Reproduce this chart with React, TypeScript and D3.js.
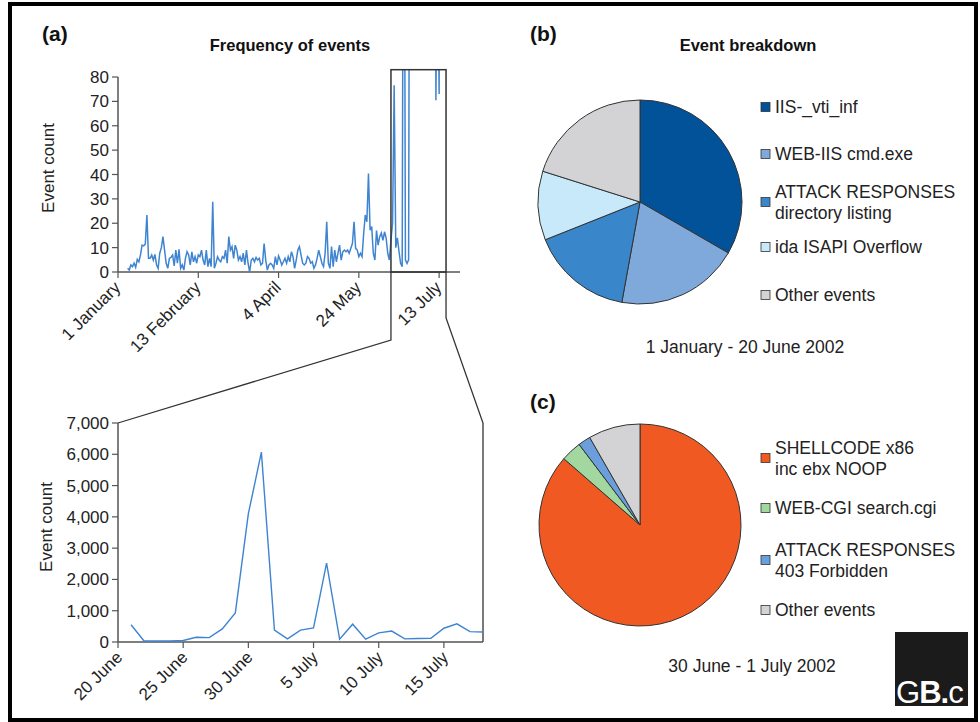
import React from "react";
import * as d3 from "d3";

// top chart: daily event counts, index 0 = day 6 (1 January = day 0)
const firstDay = 6;
const dailyCounts = [
  1.5, 0.8, 2.9, 2.2, 3.6, 1.9, 5.2, 4.2, 7, 11, 10.7, 11.5, 23.4, 5.6, 5.6, 7, 4.9, 7.2, 3, 1.5,
  7.7, 10, 14.5, 9, 3.6, 1.5, 5.6, 6, 7, 2.5, 9, 3.6, 9.3, 1.5, 2.9, 0.8, 5.6, 8.3, 7, 2.9,
  8.3, 4.2, 6.3, 3.6, 7, 6.3, 9, 4.9,
  2.9, 9, 2.2, 5.6, 2.2, 28.8, 1.5, 3.6, 6.3, 4.9, 4.2, 6.3, 5.6, 9, 3.6, 14.5, 9, 10.4, 5.6, 11,
  9, 4.9, 6.3, 4.2, 7.7, 2.9, 9, 3.6, 0, 4.9, 5.6, 4.2, 6, 4.9, 5.6, 2.9, 3.6, 11.7, 4.9, 0.8,
  2.9, 3.6, 2.9, 1.5, 6.3, 2.9, 6.6, 4.9, 2.9, 4.2, 5.6, 3.6, 6.3, 4.2,
  8.3, 6.3, 1.5, 4.9, 9, 10.4, 7, 3.6, 2.9, 3.6, 6.3, 5.6, 3.6, 4.2, 1.5, 2.9, 5.6, 9, 6.3, 3.6,
  2.2, 7.7, 20.6, 3.6, 1.5, 10.4, 2.2, 9, 4.2, 7.7, 11, 4.9, 8.3, 9, 8.3, 9, 7.7, 9.7, 11.7, 20.6,
  9.7, 9, 6.3, 7.7, 6.3, 15.8, 23.4, 20.6, 40.4, 17.2, 18.6, 7.7,
  4.9, 17, 11, 14.5, 16, 13, 16.5, 13.9, 7.7, 4.9, 13, 20, 76.6, 10, 14, 8.5, 3.6, 2.2, 250, 5,
  3.5, 5, 300, 480, 1200, 2600, 4100, 6070, 380, 110, 380, 450, 2520, 90, 570, 90, 290, 350,
  70.5, 150, 73, 330, 440, 580, 320,
];
const topTickDays = [0, 50, 100, 150, 200];
const topTickLabels = ["1 January", "13 February", "4 April", "24 May", "13 July"];
const topYTicks = [0, 10, 20, 30, 40, 50, 60, 70, 80];
const zoomWindow = [170, 204.3];

// bottom chart: 20 June = day 0
const zoomDays = [1, 2, 3, 4, 5, 6, 7, 8, 9, 10, 11, 12, 13, 14, 15, 16, 17, 18, 19, 20, 21, 22, 23, 24, 25, 26, 27, 28];
const zoomCounts = [550, 30, 30, 30, 50, 150, 140, 420, 930, 4100, 6070, 380, 100, 380, 450, 2520, 90, 570, 90, 290, 350, 100, 110, 120, 440, 580, 330, 320];
const bottomTickDays = [0, 5, 10, 15, 20, 25];
const bottomTickLabels = ["20 June", "25 June", "30 June", "5 July", "10 July", "15 July"];
const bottomYTicks = [0, 1000, 2000, 3000, 4000, 5000, 6000, 7000];

// pies
const breakdownLabels = [["IIS-_vti_inf"], ["WEB-IIS cmd.exe"], ["ATTACK RESPONSES", "directory listing"], ["ida ISAPI Overflow"], ["Other events"]];
const breakdownValues = [33.3, 19.5, 16.1, 10.9, 20.1];
const breakdownColors = ["#02529a", "#7fa8db", "#3a86ca", "#c8e9f9", "#d3d3d6"];

const shellLabels = [["SHELLCODE x86", "inc ebx NOOP"], ["WEB-CGI search.cgi"], ["ATTACK RESPONSES", "403 Forbidden"], ["Other events"]];
const shellValues = [86.4, 3.3, 2.0, 8.3];
const shellColors = ["#f05a22", "#a2d8a0", "#6b9fdc", "#d3d3d6"];

const font = "'Liberation Sans', Arial, Helvetica, sans-serif";
const axisColor = "#555";
const lineColor = "#3f84d0";

const Pie = ({ cx, cy, r, values, colors }) => {
  const arcs = d3.pie().sort(null)(values);
  const arc = d3.arc().innerRadius(0).outerRadius(r);
  return (
    <g transform={`translate(${cx},${cy})`}>
      {arcs.map((a, i) => (
        <path key={i} d={arc(a)} fill={colors[i]} stroke="#333" strokeWidth={1} />
      ))}
    </g>
  );
};

const Legend = ({ x, rows, labels, colors }) => (
  <g fontFamily={font} fontSize={17.5} fill="#222">
    {labels.map((lines, i) => (
      <g key={i}>
        <rect x={x} y={rows[i] - 4.5} width={9} height={9} fill={colors[i]} stroke="#333" strokeWidth={0.8} />
        {lines.map((t, j) => (
          <text key={j} x={x + 14} y={rows[i] + 6 + (j - (lines.length - 1) / 2) * 21}>{t}</text>
        ))}
      </g>
    ))}
  </g>
);

export default function App() {
  // top chart scales
  const xTop = d3.scaleLinear().domain([0, 213]).range([118, 460]);
  const yTop = d3.scaleLinear().domain([0, 80]).range([272, 77]);
  const topLine = d3.line<number>().x((d, i) => xTop(firstDay + i)).y((d) => yTop(d));

  // bottom chart scales
  const xBot = d3.scaleLinear().domain([0, 28]).range([118, 483]);
  const yBot = d3.scaleLinear().domain([0, 7000]).range([642, 423]);
  const botLine = d3.line<number>().x((d, i) => xBot(zoomDays[i])).y((d) => yBot(d));

  const boxL = xTop(zoomWindow[0]);
  const boxR = xTop(zoomWindow[1]);
  const boxTop = yTop(83);

  return (
    <svg width={980} height={722} style={{ position: "absolute", left: 0, top: 0, background: "#fff" }}>
      <defs>
        <clipPath id="topclip">
          <rect x={110} y={boxTop} width={360} height={272 - boxTop + 4} />
        </clipPath>
      </defs>
      <rect x={10} y={4} width={966} height={716} fill="none" stroke="#000" strokeWidth={4} />

      <g fontFamily={font} fontWeight="bold" fill="#111">
        <text x={42} y={41} fontSize={21}>(a)</text>
        <text x={530} y={41} fontSize={21}>(b)</text>
        <text x={530} y={409} fontSize={21}>(c)</text>
        <text x={290} y={51} fontSize={16.5} textAnchor="middle">Frequency of events</text>
        <text x={748} y={51} fontSize={16.5} textAnchor="middle">Event breakdown</text>
      </g>

      {/* top chart */}
      <g fontFamily={font} fontSize={17} fill="#222">
        <line x1={118} x2={118} y1={yTop(80)} y2={272} stroke={axisColor} strokeWidth={1.5} />
        <line x1={118} x2={460} y1={272} y2={272} stroke={axisColor} strokeWidth={1.5} />
        {topYTicks.map((t) => (
          <g key={t}>
            <line x1={112} x2={118} y1={yTop(t)} y2={yTop(t)} stroke={axisColor} strokeWidth={1.2} />
            <text x={109} y={yTop(t) + 6} textAnchor="end">{t}</text>
          </g>
        ))}
        {topTickDays.map((d, i) => (
          <g key={d}>
            <line x1={xTop(d)} x2={xTop(d)} y1={272} y2={278} stroke={axisColor} strokeWidth={1.2} />
            <text transform={`translate(${xTop(d) - 5},${280}) rotate(-45)`} textAnchor="end" dy="0.7em">
              {topTickLabels[i]}
            </text>
          </g>
        ))}
        <text transform={`translate(54,168) rotate(-90)`} textAnchor="middle">Event count</text>
        <path d={topLine(dailyCounts) || ""} fill="none" stroke={lineColor} strokeWidth={1.5} clipPath="url(#topclip)" />
        <rect x={boxL} y={boxTop} width={boxR - boxL} height={272 - boxTop} fill="none" stroke="#333" strokeWidth={1.5} />
      </g>

      {/* connectors */}
      <polyline points={`${boxL},272 ${boxL},340 ${xBot(0)},${yBot(7000)}`} fill="none" stroke="#333" strokeWidth={1.3} />
      <polyline points={`${boxR},272 ${boxR},318 ${xBot(28)},${yBot(7000)} ${xBot(28)},${yBot(0)}`} fill="none" stroke="#333" strokeWidth={1.3} />

      {/* bottom chart */}
      <g fontFamily={font} fontSize={17} fill="#222">
        <line x1={118} x2={118} y1={yBot(7000)} y2={642} stroke={axisColor} strokeWidth={1.5} />
        <line x1={118} x2={483} y1={642} y2={642} stroke={axisColor} strokeWidth={1.5} />
        {bottomYTicks.map((t) => (
          <g key={t}>
            <line x1={112} x2={118} y1={yBot(t)} y2={yBot(t)} stroke={axisColor} strokeWidth={1.2} />
            <text x={109} y={yBot(t) + 6} textAnchor="end">{d3.format(",")(t)}</text>
          </g>
        ))}
        {bottomTickDays.map((d, i) => (
          <g key={d}>
            <line x1={xBot(d)} x2={xBot(d)} y1={642} y2={648} stroke={axisColor} strokeWidth={1.2} />
            <text transform={`translate(${xBot(d) - 3},${650}) rotate(-45)`} textAnchor="end" dy="0.7em">
              {bottomTickLabels[i]}
            </text>
          </g>
        ))}
        <text transform={`translate(52,527) rotate(-90)`} textAnchor="middle">Event count</text>
        <path d={botLine(zoomCounts) || ""} fill="none" stroke={lineColor} strokeWidth={1.4} />
      </g>

      {/* pies */}
      <Pie cx={640} cy={202} r={102} values={breakdownValues} colors={breakdownColors} />
      <Legend x={761} rows={[107, 154, 202, 247, 295]} labels={breakdownLabels} colors={breakdownColors} />
      <text x={745} y={353} fontFamily={font} fontSize={17.5} textAnchor="middle" fill="#222">1 January - 20 June 2002</text>

      <Pie cx={640} cy={525} r={101} values={shellValues} colors={shellColors} />
      <Legend x={761} rows={[458, 508, 560, 610]} labels={shellLabels} colors={shellColors} />
      <text x={752} y={672} fontFamily={font} fontSize={17.5} textAnchor="middle" fill="#222">30 June - 1 July 2002</text>

      {/* logo */}
      <rect x={895} y={632} width={73} height={74} fill="#1b1b1b" />
      <text x={896} y={703} fontFamily={font} fontSize={31} fill="#fff" letterSpacing={-1}>
        <tspan>G</tspan>
        <tspan fontWeight="bold">B.</tspan>
        <tspan>c</tspan>
      </text>
    </svg>
  );
}
